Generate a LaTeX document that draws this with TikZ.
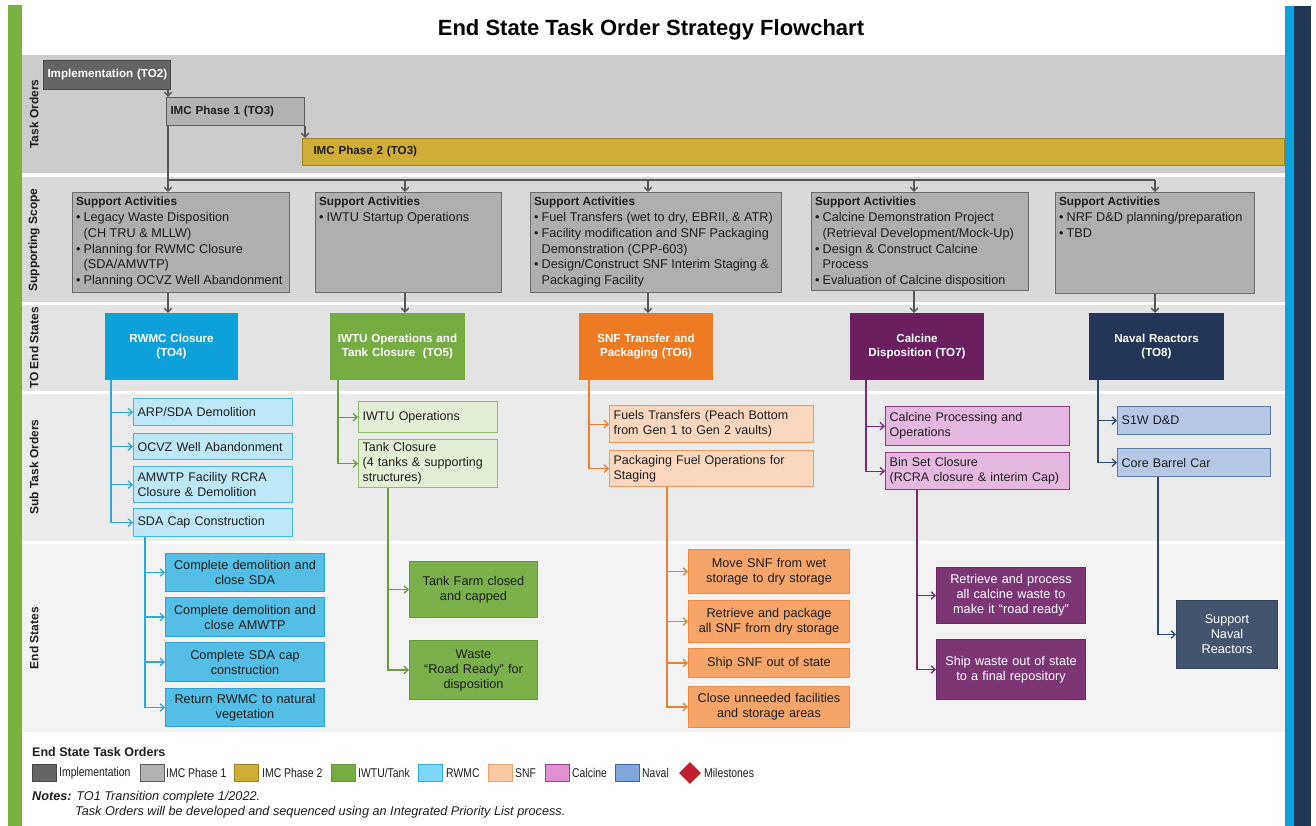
\documentclass[tikz,border=0pt]{standalone}
\usepackage{fontspec}
\setmainfont{Liberation Sans}
\newfontfamily\narrowfont[FakeStretch=0.82]{Liberation Sans}
\usetikzlibrary{arrows.meta,shapes.geometric}
\definecolor{txt}{HTML}{1E1E1E}
\definecolor{greenbar}{HTML}{7AB03F}
\definecolor{cyanbar}{HTML}{0AA2DA}
\definecolor{navybar}{HTML}{22365A}
\definecolor{bandA}{HTML}{CCCCCC}
\definecolor{bandB}{HTML}{D9D9D9}
\definecolor{bandC}{HTML}{E3E3E3}
\definecolor{bandD}{HTML}{EBEBEB}
\definecolor{bandE}{HTML}{F3F3F3}
\definecolor{impF}{HTML}{646464}
\definecolor{impD}{HTML}{474747}
\definecolor{imcAF}{HTML}{B2B2B2}
\definecolor{imcAD}{HTML}{5E5E5E}
\definecolor{imcBF}{HTML}{CFAD36}
\definecolor{imcBD}{HTML}{A08420}
\definecolor{supF}{HTML}{AFAFAF}
\definecolor{supD}{HTML}{6A6A6A}
\definecolor{gline}{HTML}{555555}
\definecolor{rwTO}{HTML}{0EA0D8}
\definecolor{rwSF}{HTML}{BCE8F8}
\definecolor{rwSD}{HTML}{45B7E5}
\definecolor{rwEF}{HTML}{55BEE6}
\definecolor{rwED}{HTML}{2FA3D3}
\definecolor{rwL}{HTML}{2AA8DC}
\definecolor{iwTO}{HTML}{77AC42}
\definecolor{iwSF}{HTML}{E2EFD6}
\definecolor{iwSD}{HTML}{8FBF6B}
\definecolor{iwEF}{HTML}{7BB04A}
\definecolor{iwED}{HTML}{66973A}
\definecolor{iwL}{HTML}{6A9E3C}
\definecolor{snTO}{HTML}{EE7A24}
\definecolor{snSF}{HTML}{FBD7BD}
\definecolor{snSD}{HTML}{F19A5C}
\definecolor{snEF}{HTML}{F5A46A}
\definecolor{snED}{HTML}{F08B44}
\definecolor{snL}{HTML}{EE7F30}
\definecolor{caTO}{HTML}{6C1F5E}
\definecolor{caSF}{HTML}{E6B8E0}
\definecolor{caSD}{HTML}{8B3C82}
\definecolor{caEF}{HTML}{7D3673}
\definecolor{caED}{HTML}{6A2A61}
\definecolor{caL}{HTML}{7A2A6E}
\definecolor{naTO}{HTML}{233559}
\definecolor{naSF}{HTML}{B6C8E6}
\definecolor{naSD}{HTML}{5E7BA8}
\definecolor{naEF}{HTML}{44546C}
\definecolor{naED}{HTML}{34435A}
\definecolor{naL}{HTML}{2F4A72}
\definecolor{lgRW}{HTML}{7DD8F7}
\definecolor{lgRWd}{HTML}{2AB0E2}
\definecolor{lgSN}{HTML}{FAC9A6}
\definecolor{lgSNd}{HTML}{F0A070}
\definecolor{lgCA}{HTML}{E08FD0}
\definecolor{lgCAd}{HTML}{A0408F}
\definecolor{lgNA}{HTML}{80A6DC}
\definecolor{lgNAd}{HTML}{3E66A0}
\definecolor{mile}{HTML}{C0202F}
\newdimen\bxw \newdimen\bxh \newdimen\bxtw
\newcommand{\bx}[7]{%
  \bxw=\dimexpr #5pt-#3pt\relax
  \bxh=\dimexpr #6pt-#4pt\relax
  \bxtw=\dimexpr\bxw-8pt\relax
  \node[anchor=north west, minimum width=\the\bxw, minimum height=\the\bxh, text width=\the\bxtw, inner xsep=4pt, inner ysep=0pt, #1] (#2) at (#3,#4) {#7};}
\newcommand{\sx}[7]{%
  \bxw=\dimexpr #5pt-#3pt\relax
  \bxh=\dimexpr #6pt-#4pt\relax
  \node[anchor=north west, minimum width=\the\bxw, minimum height=\the\bxh, inner sep=0pt, #1] (#2) at (#3,#4) {\parbox[c][\dimexpr\bxh-9pt\relax][t]{\dimexpr\bxw-7pt\relax}{\fontsize{12.7}{15.8}\selectfont\color{txt}#7}};}
\newcommand{\suphead}{\noindent\mbox{\bfseries\fontsize{11.8}{15.8}\selectfont Support Activities}\par}
\newcommand{\bulline}[1]{\par\noindent\hbox to 7.5pt{\textbullet\hss}\mbox{#1}}
\newcommand{\contline}[1]{\par\noindent\hspace*{7.5pt}\mbox{#1}}
\tikzset{
 tob/.style={line width=1pt, align=left, font=\bfseries\fontsize{11.6}{14}\selectfont},
 tost/.style={line width=1pt, text=white, align=center, font=\bfseries\fontsize{11.6}{14}\selectfont},
 subb/.style={line width=1.3pt, align=left, text=txt, font=\fontsize{12.5}{15}\selectfont},
 esb/.style={line width=1pt, align=center, text=txt, font=\fontsize{12.7}{15}\selectfont},
 supb/.style={line width=1.2pt, fill=supF, draw=supD},
 rowlab/.style={rotate=90, font=\bfseries\fontsize{12}{14}\selectfont, text=txt},
 conn/.style={line width=1.3pt},
 arr/.style={line width=1.3pt, -{Straight Barb[length=4pt,width=7.5pt]}},
 swb/.style={anchor=west, minimum width=24pt, minimum height=17pt, inner sep=0pt, line width=1pt},
 lgt/.style={anchor=west, font=\narrowfont\fontsize{12.7}{15}\selectfont, text=txt, inner sep=0pt},
}
\begin{document}
\begin{tikzpicture}[x=1pt,y=-1pt]
\useasboundingbox (0,0) rectangle (1316,826);
\fill[white] (0,0) rectangle (1316,826);
% side bars
\fill[greenbar] (8,5) rectangle (22,826);
\fill[cyanbar] (1285,6) rectangle (1294,826);
\fill[navybar] (1294,6) rectangle (1311,826);
% bands
\fill[bandA] (22,55) rectangle (1285,173);
\fill[bandB] (22,177) rectangle (1285,302);
\fill[bandC] (22,305) rectangle (1285,391);
\fill[bandD] (22,394) rectangle (1285,541);
\fill[bandE] (22,544) rectangle (1285,732);
% title
\node[font=\bfseries\fontsize{22}{26}\selectfont, text=black] (title) at (651,30) {End State Task Order Strategy Flowchart};
% row labels
\node[rowlab] (lab1) at (34,114) {Task Orders};
\node[rowlab] (lab2) at (34,240) {Supporting Scope};
\node[rowlab] (lab3) at (34,348) {TO End States};
\node[rowlab] (lab4) at (34,467) {Sub Task Orders};
\node[rowlab] (lab5) at (34,638) {End States};
% task orders
\bx{tob,fill=impF,draw=impD,text=white,inner xsep=3pt}{impl}{43}{60}{170}{89}{\mbox{Implementation (TO2)}}
\bx{tob,fill=imcAF,draw=imcAD,text=txt}{imc1}{166}{97}{304}{125}{\mbox{IMC Phase 1 (TO3)}}
\bx{tob,fill=imcBF,draw=imcBD,text=txt}{imc2}{302}{138}{1284}{165}{\hspace*{7pt}IMC Phase 2 (TO3)}
% supporting scope
\sx{supb}{sa1}{72}{192}{289}{292}{\suphead\bulline{Legacy Waste Disposition}\contline{(CH TRU \& MLLW)}\bulline{Planning for RWMC Closure}\contline{(SDA/AMWTP)}\bulline{Planning OCVZ Well Abandonment}}
\sx{supb}{sa2}{315}{192}{501}{292}{\suphead\bulline{IWTU Startup Operations}}
\sx{supb}{sa3}{530}{192}{781}{292}{\suphead\bulline{Fuel Transfers (wet to dry, EBRII, \& ATR)}\bulline{Facility modification and SNF Packaging}\contline{Demonstration (CPP-603)}\bulline{Design/Construct SNF Interim Staging \&}\contline{Packaging Facility}}
\sx{supb}{sa4}{811}{192}{1028}{290}{\suphead\bulline{Calcine Demonstration Project}\contline{(Retrieval Development/Mock-Up)}\bulline{Design \& Construct Calcine}\contline{Process}\bulline{Evaluation of Calcine disposition}}
\sx{supb}{sa5}{1055}{192}{1254}{293}{\suphead\bulline{NRF D\&D planning/preparation}\bulline{TBD}}
% TO end states
\bx{tost,fill=rwTO,draw=rwTO}{to4}{105}{313}{237}{379}{RWMC Closure\\(TO4)}
\bx{tost,fill=iwTO,draw=iwTO}{to5}{330}{313}{464}{379}{IWTU Operations and\\Tank Closure\ \ (TO5)}
\bx{tost,fill=snTO,draw=snTO}{to6}{579}{313}{712}{379}{SNF Transfer and\\Packaging (TO6)}
\bx{tost,fill=caTO,draw=caTO}{to7}{850}{313}{983}{379}{Calcine\\Disposition (TO7)}
\bx{tost,fill=naTO,draw=naTO}{to8}{1089}{313}{1223}{379}{Naval Reactors\\(TO8)}
% sub task orders
\bx{subb,fill=rwSF,draw=rwSD}{st1a}{133}{398}{292}{425}{ARP/SDA Demolition}
\bx{subb,fill=rwSF,draw=rwSD}{st1b}{133}{433}{292}{459}{OCVZ Well Abandonment}
\bx{subb,fill=rwSF,draw=rwSD}{st1c}{133}{466}{292}{502}{AMWTP Facility RCRA\\Closure \& Demolition}
\bx{subb,fill=rwSF,draw=rwSD}{st1d}{133}{508}{292}{536}{SDA Cap Construction}
\bx{subb,fill=iwSF,draw=iwSD}{st2a}{358}{401}{497}{432}{IWTU Operations}
\bx{subb,fill=iwSF,draw=iwSD}{st2b}{358}{439}{497}{487}{Tank Closure\\(4 tanks \& supporting\\structures)}
\bx{subb,fill=snSF,draw=snSD}{st3a}{609}{405}{813}{442}{Fuels Transfers (Peach Bottom\\from Gen 1 to Gen 2 vaults)}
\bx{subb,fill=snSF,draw=snSD}{st3b}{609}{450}{813}{486}{Packaging Fuel Operations for\\Staging}
\bx{subb,fill=caSF,draw=caSD}{st4a}{885}{406}{1069}{445}{Calcine Processing and\\Operations}
\bx{subb,fill=caSF,draw=caSD}{st4b}{885}{452}{1069}{489}{Bin Set Closure\\(RCRA closure \& interim Cap)}
\bx{subb,fill=naSF,draw=naSD}{st5a}{1117}{406}{1270}{434}{S1W D\&D}
\bx{subb,fill=naSF,draw=naSD}{st5b}{1117}{448}{1270}{476}{Core Barrel Car}
% end states
\bx{esb,fill=rwEF,draw=rwED}{es1a}{165}{553}{324}{591}{Complete demolition and\\close SDA}
\bx{esb,fill=rwEF,draw=rwED}{es1b}{165}{597}{324}{636}{Complete demolition and\\close AMWTP}
\bx{esb,fill=rwEF,draw=rwED}{es1c}{165}{642}{324}{681}{Complete SDA cap\\construction}
\bx{esb,fill=rwEF,draw=rwED}{es1d}{165}{688}{324}{726}{Return RWMC to natural\\vegetation}
\bx{esb,fill=iwEF,draw=iwED}{es2a}{409}{561}{537}{617}{Tank Farm closed\\and capped}
\bx{esb,fill=iwEF,draw=iwED}{es2b}{409}{640}{537}{699}{Waste\\“Road Ready” for\\disposition}
\bx{esb,fill=snEF,draw=snED}{es3a}{688}{549}{849}{593}{Move SNF from wet\\storage to dry storage}
\bx{esb,fill=snEF,draw=snED}{es3b}{688}{600}{849}{642}{Retrieve and package\\all SNF from dry storage}
\bx{esb,fill=snEF,draw=snED}{es3c}{688}{648}{849}{677}{Ship SNF out of state}
\bx{esb,fill=snEF,draw=snED}{es3d}{688}{686}{849}{727}{Close unneeded facilities\\and storage areas}
\bx{esb,fill=caEF,draw=caED,text=white}{es4a}{936}{567}{1085}{623}{Retrieve and process\\all calcine waste to\\make it “road ready”}
\bx{esb,fill=caEF,draw=caED,text=white}{es4b}{936}{639}{1085}{699}{Ship waste out of state\\to a final repository}
\bx{esb,fill=naEF,draw=naED,text=white}{es5}{1176}{600}{1277}{668}{Support\\Naval\\Reactors}
% top connectors
\coordinate (c1) at (168,180);
\coordinate (c2) at (405,180);
\coordinate (c3) at (648,180);
\coordinate (c4) at (914,180);
\coordinate (c5) at (1155,180);
\draw[arr,draw=gline] (impl.south -| c1) -- (imc1.north -| c1);
\draw[arr,draw=gline] (imc1.south east) -- (imc1.south east |- imc2.north);
\draw[conn,draw=gline] (imc1.south -| c1) -- (c1) -- (c5);
\draw[arr,draw=gline] (c1) -- (sa1.north -| c1);
\draw[arr,draw=gline] (c2) -- (sa2.north -| c2);
\draw[arr,draw=gline] (c3) -- (sa3.north -| c3);
\draw[arr,draw=gline] (c4) -- (sa4.north -| c4);
\draw[arr,draw=gline] (c5) -- (sa5.north -| c5);
\draw[arr,draw=gline] (sa1.south -| c1) -- (to4.north -| c1);
\draw[arr,draw=gline] (sa2.south -| c2) -- (to5.north -| c2);
\draw[arr,draw=gline] (sa3.south -| c3) -- (to6.north -| c3);
\draw[arr,draw=gline] (sa4.south -| c4) -- (to7.north -| c4);
\draw[arr,draw=gline] (sa5.south -| c5) -- (to8.north -| c5);
% sub task connectors
\coordinate (t1) at (111,0);
\coordinate (t2) at (338,0);
\coordinate (t3) at (589,0);
\coordinate (t4) at (866,0);
\coordinate (t5) at (1098,0);
\draw[arr,draw=rwL] (to4.south -| t1) |- (st1d.west);
\draw[arr,draw=rwL] (st1a.west -| t1) -- (st1a.west);
\draw[arr,draw=rwL] (st1b.west -| t1) -- (st1b.west);
\draw[arr,draw=rwL] (st1c.west -| t1) -- (st1c.west);
\draw[arr,draw=iwL] (to5.south -| t2) |- (st2b.west);
\draw[arr,draw=iwL] (st2a.west -| t2) -- (st2a.west);
\draw[arr,draw=snL] (to6.south -| t3) |- (st3b.west);
\draw[arr,draw=snL] (st3a.west -| t3) -- (st3a.west);
\draw[arr,draw=caL] (to7.south -| t4) |- (st4b.west);
\draw[arr,draw=caL] (st4a.west -| t4) -- (st4a.west);
\draw[arr,draw=naL] (to8.south -| t5) |- (st5b.west);
\draw[arr,draw=naL] (st5a.west -| t5) -- (st5a.west);
% end state connectors
\coordinate (e1) at (145,0);
\coordinate (e2) at (388,0);
\coordinate (e3) at (667,0);
\coordinate (e4) at (917,0);
\coordinate (e5) at (1158,0);
\draw[arr,draw=rwL] (st1d.south -| e1) |- (es1d.west);
\draw[arr,draw=rwL] (es1a.west -| e1) -- (es1a.west);
\draw[arr,draw=rwL] (es1b.west -| e1) -- (es1b.west);
\draw[arr,draw=rwL] (es1c.west -| e1) -- (es1c.west);
\draw[arr,draw=iwL] (st2b.south -| e2) |- (es2b.west);
\draw[arr,draw=iwL] (es2a.west -| e2) -- (es2a.west);
\draw[arr,draw=snL] (st3b.south -| e3) |- (es3d.west);
\draw[arr,draw=snL] (es3a.west -| e3) -- (es3a.west);
\draw[arr,draw=snL] (es3b.west -| e3) -- (es3b.west);
\draw[arr,draw=snL] (es3c.west -| e3) -- (es3c.west);
\draw[arr,draw=caL] (st4b.south -| e4) |- (es4b.west);
\draw[arr,draw=caL] (es4a.west -| e4) -- (es4a.west);
\draw[arr,draw=naL] (st5b.south -| e5) |- (es5.west);
% legend
\node[anchor=west, inner sep=0pt, font=\bfseries\fontsize{12.5}{15}\selectfont, text=txt] (lgh) at (32,752) {End State Task Orders};
\node[swb, fill=impF, draw=impD] (lg1) at (32,773) {};
\node[lgt] (lg1t) at (59,773) {Implementation};
\node[swb, fill=imcAF, draw=imcAD] (lg2) at (140,773) {};
\node[lgt] (lg2t) at (166,773) {IMC Phase 1};
\node[swb, fill=imcBF, draw=imcBD] (lg3) at (234,773) {};
\node[lgt] (lg3t) at (262,773) {IMC Phase 2};
\node[swb, fill=iwTO, draw=iwED] (lg4) at (331,773) {};
\node[lgt] (lg4t) at (358,773) {IWTU/Tank};
\node[swb, fill=lgRW, draw=lgRWd] (lg5) at (418,773) {};
\node[lgt] (lg5t) at (446,773) {RWMC};
\node[swb, fill=lgSN, draw=lgSNd] (lg6) at (488,773) {};
\node[lgt] (lg6t) at (515,773) {SNF};
\node[swb, fill=lgCA, draw=lgCAd] (lg7) at (545,773) {};
\node[lgt] (lg7t) at (572,773) {Calcine};
\node[swb, fill=lgNA, draw=lgNAd] (lg8) at (615,773) {};
\node[lgt] (lg8t) at (642,773) {Naval};
\node[diamond, aspect=1, fill=mile, inner sep=0pt, minimum width=22pt, minimum height=22pt] (lg9) at (690,773) {};
\node[lgt] (lg9t) at (704,773) {Milestones};
% notes
\node[anchor=west, inner sep=0pt, font=\fontsize{12.7}{15}\selectfont, text=txt] (notes1) at (32,797) {\textbf{\textit{Notes:}} \textit{TO1 Transition complete 1/2022.}};
\node[anchor=west, inner sep=0pt, font=\fontsize{12.7}{15}\selectfont, text=txt] (notes2) at (75,812) {\textit{Task Orders will be developed and sequenced using an Integrated Priority List process.}};
\end{tikzpicture}
\end{document}
